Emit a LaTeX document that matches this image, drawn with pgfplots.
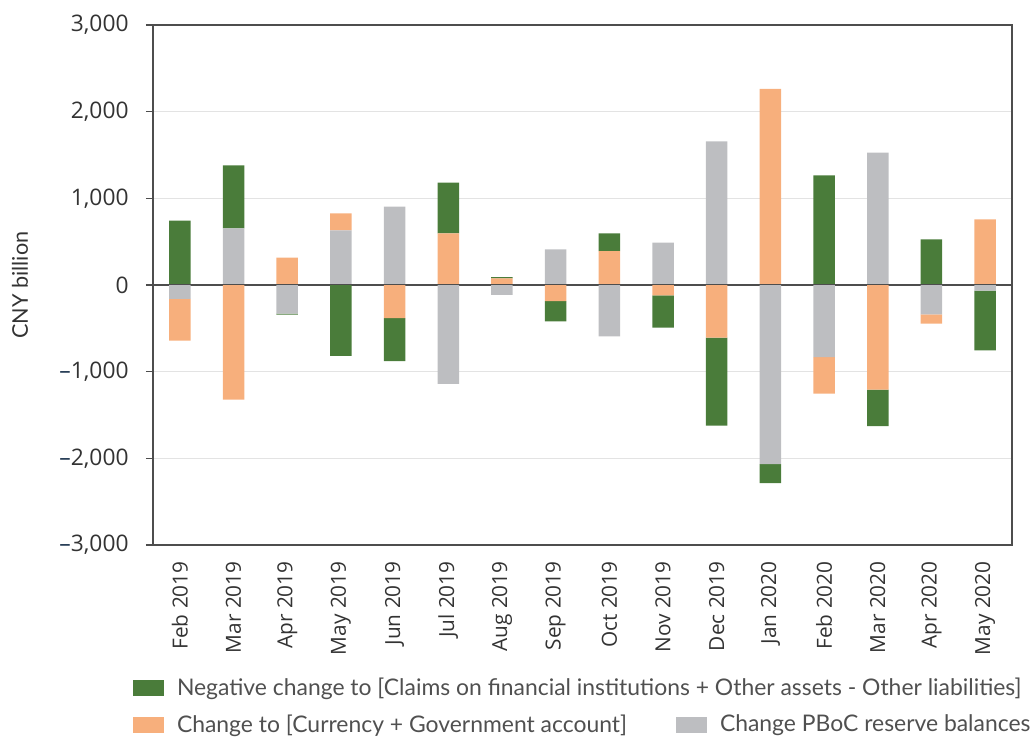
\documentclass[border=0pt]{standalone}
\usepackage{pgfplots}
\pgfplotsset{compat=1.18}
\usepackage{pgfplotstable}
\usepackage{fontspec}
\setmainfont{Lato}
\newfontfamily\tickfont{Open Sans}
\definecolor{cgreen}{HTML}{4A7C3A}
\definecolor{corange}{HTML}{F7AF7C}
\definecolor{cgray}{HTML}{BDBEC1}
\definecolor{cgrid}{HTML}{E3E3E3}
\definecolor{cframe}{HTML}{4D4D4D}
\definecolor{ctext}{HTML}{333333}
\definecolor{clegend}{HTML}{505050}
\definecolor{cdash}{HTML}{1F3650}

% positive parts of each series (CNY billion)
\pgfplotstableread{
x gray orange green
0 0 0 742
1 654 0 727
2 0 315 0
3 631 196 0
4 904 0 0
5 0 596 585
6 0 77 15
7 412 0 0
8 0 392 204
9 488 0 0
10 1658 0 0
11 0 2262 0
12 0 0 1266
13 1527 0 0
14 0 0 527
15 0 758 0
}\posdata
% negative parts of each series (CNY billion)
\pgfplotstableread{
x gray orange green
0 -161 -481 0
1 0 -1323 0
2 -331 0 -11
3 0 0 -819
4 0 -381 -496
5 -1142 0 0
6 -115 0 0
7 0 -185 -234
8 -593 0 0
9 0 -119 -373
10 0 -608 -1015
11 -2066 0 -219
12 -831 -423 0
13 0 -1208 -419
14 -338 -108 0
15 -65 0 -688
}\negdata

\pgfplotsset{
  sqlegend/.style={legend image code/.code={\fill[##1] (0pt,-4pt) rectangle (15.5pt,4pt);}},
  mybase/.style={
    width=429.5pt, height=260pt, scale only axis,
    xmin=-0.5, xmax=15.5, ymin=-3000, ymax=3000,
    enlarge x limits=false,
    ybar stacked, bar width=0.4,
    legend style={draw=none, fill=none, inner sep=0pt, outer sep=0pt,
      font=\fontsize{11.45}{13}\selectfont, text=clegend,
      legend cell align=left,
      /tikz/every odd column/.append style={column sep=4.5pt}},
  },
}

\begin{document}
\begin{tikzpicture}
\useasboundingbox (-76.5pt,-96pt) rectangle (439pt,272.5pt);
\begin{axis}[mybase,
  axis line style={draw=cframe, line width=0.8pt},
  ytick={-3000,-2000,-1000,0,1000,2000,3000},
  yticklabels={{\textcolor{cdash}{\textendash}3,000},{\textcolor{cdash}{\textendash}2,000},{\textcolor{cdash}{\textendash}1,000},0,{1,000},{2,000},{3,000}},
  ymajorgrids, grid style={cgrid, line width=0.8pt},
  ytick pos=left, tick align=outside, major tick length=3.5pt,
  ytick style={draw=cframe, line width=0.8pt},
  xtick={0,...,15},
  xticklabels={Feb 2019,Mar 2019,Apr 2019,May 2019,Jun 2019,Jul 2019,Aug 2019,Sep 2019,Oct 2019,Nov 2019,Dec 2019,Jan 2020,Feb 2020,Mar 2020,Apr 2020,May 2020},
  xtick style={draw=none},
  xticklabel style={rotate=90, anchor=east, inner sep=0pt, font=\tickfont\fontsize{10.4}{12}\selectfont, text=ctext},
  xticklabel shift=4.5pt,
  yticklabel style={anchor=east, inner sep=0pt, font=\tickfont\fontsize{11.4}{13}\selectfont, text=ctext},
  yticklabel shift=8.5pt,
  ylabel={CNY billion},
  ylabel style={at={(axis description cs:-0.1548,0.5)}, anchor=center, font=\fontsize{10.8}{12}\selectfont, text=ctext},
  legend style={at={(axis description cs:0,0)}, anchor=west, xshift=-10pt, yshift=-71.5pt},
]
\addlegendimage{sqlegend, fill=cgreen, draw=none}
\addlegendentry{Negative change to [Claims on financial institutions + Other assets - Other liabilities]}
\addplot[fill=cgray, draw=none] table[x=x, y=gray] {\posdata};
\addplot[fill=corange, draw=none] table[x=x, y=orange] {\posdata};
\addplot[fill=cgreen, draw=none] table[x=x, y=green] {\posdata};
\end{axis}
\begin{axis}[mybase, hide axis,
  legend columns=2,
  legend style={at={(axis description cs:0,0)}, anchor=west, xshift=-10pt, yshift=-90pt},
]
\addlegendimage{sqlegend, fill=corange, draw=none}
\addlegendentry{\makebox[247.5pt][l]{Change to [Currency + Government account]}}
\addlegendimage{sqlegend, fill=cgray, draw=none}
\addlegendentry{Change PBoC reserve balances}
\addplot[fill=cgray, draw=none] table[x=x, y=gray] {\negdata};
\addplot[fill=corange, draw=none] table[x=x, y=orange] {\negdata};
\addplot[fill=cgreen, draw=none] table[x=x, y=green] {\negdata};
\draw[draw=cframe, line width=1pt] (axis cs:-0.5,0) -- (axis cs:15.5,0);
\end{axis}
\end{tikzpicture}
\end{document}
